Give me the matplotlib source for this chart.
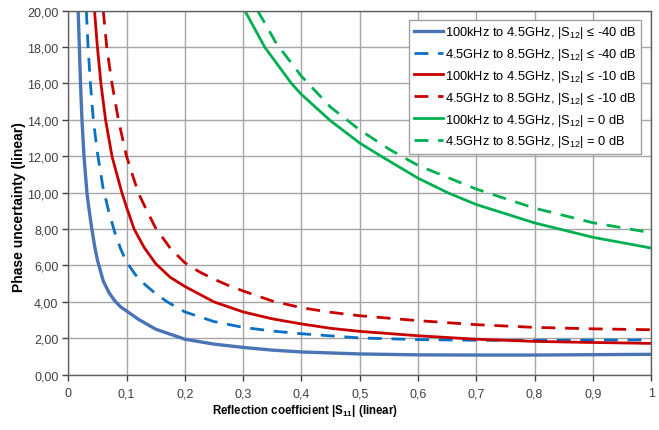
import matplotlib
matplotlib.use("Agg")
import matplotlib.pyplot as plt
from matplotlib.ticker import FuncFormatter, MultipleLocator

plt.rcParams['font.family'] = ['Liberation Sans', 'DejaVu Sans']
plt.rcParams['mathtext.fontset'] = 'custom'
plt.rcParams['mathtext.rm'] = 'Liberation Sans'
plt.rcParams['mathtext.bf'] = 'Liberation Sans:bold'

# values
x_low_40 = [0.017, 0.019, 0.021, 0.0235, 0.027, 0.032, 0.036, 0.040, 0.045, 0.050, 0.060,
            0.070, 0.080, 0.090, 0.10, 0.12, 0.15, 0.20, 0.25, 0.30, 0.35, 0.40, 0.50,
            0.60, 0.70, 0.80, 0.90, 1.00]
y_low_40 = [20.0, 18.0, 16.0, 14.0, 12.0, 10.0, 9.0, 8.1, 7.1, 6.3, 5.15,
            4.5, 4.05, 3.72, 3.5, 3.05, 2.5, 1.95, 1.68, 1.5, 1.35, 1.25, 1.14,
            1.09, 1.08, 1.08, 1.10, 1.12]

x_high_40 = [0.031, 0.034, 0.038, 0.043, 0.050, 0.060, 0.070, 0.080, 0.090, 0.10,
             0.115, 0.13, 0.15, 0.17, 0.20, 0.25, 0.30, 0.35, 0.40, 0.50, 0.60,
             0.70, 0.80, 0.90, 1.00]
y_high_40 = [20.0, 18.0, 16.0, 14.0, 12.2, 10.2, 8.9, 7.8, 6.9, 6.2,
             5.5, 5.0, 4.45, 4.0, 3.45, 2.92, 2.6, 2.4, 2.25, 2.02, 1.93,
             1.89, 1.89, 1.90, 1.91]

x_low_10 = [0.045, 0.050, 0.056, 0.064, 0.075, 0.092, 0.10, 0.113, 0.13, 0.15, 0.175,
            0.20, 0.25, 0.30, 0.35, 0.40, 0.45, 0.50, 0.60, 0.70, 0.80, 0.90, 1.00]
y_low_10 = [20.0, 18.0, 16.0, 14.0, 12.0, 10.0, 9.2, 8.0, 7.0, 6.1, 5.35,
            4.85, 4.0, 3.45, 3.07, 2.79, 2.55, 2.38, 2.14, 1.95, 1.83, 1.77, 1.72]

x_high_10 = [0.060, 0.066, 0.075, 0.086, 0.10, 0.12, 0.135, 0.15, 0.175, 0.20, 0.225,
             0.25, 0.275, 0.30, 0.35, 0.40, 0.45, 0.50, 0.60, 0.70, 0.80, 0.90, 1.00]
y_high_10 = [20.0, 18.0, 16.0, 14.0, 12.0, 10.0, 9.0, 8.05, 6.95, 6.15, 5.65,
             5.25, 4.9, 4.6, 4.05, 3.68, 3.43, 3.24, 2.97, 2.75, 2.6, 2.52, 2.47]

x_low_0 = [0.303, 0.32, 0.337, 0.36, 0.383, 0.40, 0.45, 0.50, 0.537, 0.60, 0.651,
           0.70, 0.80, 0.90, 1.00]
y_low_0 = [20.0, 19.0, 18.0, 17.0, 16.0, 15.4, 13.95, 12.73, 12.0, 10.8, 10.0,
           9.35, 8.34, 7.55, 6.96]

x_high_0 = [0.325, 0.357, 0.40, 0.45, 0.50, 0.55, 0.60, 0.70, 0.80, 0.90, 1.00]
y_high_0 = [20.0, 18.2, 16.4, 14.7, 13.45, 12.4, 11.5, 10.2, 9.15, 8.35, 7.8]

labels = [
    r'100kHz to 4.5GHz, |S$_{12}$| ≤ -40 dB',
    r'4.5GHz to 8.5GHz, |S$_{12}$| ≤ -40 dB',
    r'100kHz to 4.5GHz, |S$_{12}$| ≤ -10 dB',
    r'4.5GHz to 8.5GHz, |S$_{12}$| ≤ -10 dB',
    r'100kHz to 4.5GHz, |S$_{12}$| = 0 dB',
    r'4.5GHz to 8.5GHz, |S$_{12}$| = 0 dB',
]

fig = plt.figure(figsize=(6.59, 4.31), dpi=100)
ax = fig.add_axes([0.1036, 0.1283, 0.8844, 0.8446])

dash = (0, (5, 3.5))
ax.plot(x_low_40, y_low_40, color='#4a74b4', lw=2.4, label=labels[0])
ax.plot(x_high_40, y_high_40, color='#0a70c4', lw=2.0, ls=dash, label=labels[1])
ax.plot(x_low_10, y_low_10, color='#c80000', lw=2.0, label=labels[2])
ax.plot(x_high_10, y_high_10, color='#c80000', lw=2.0, ls=dash, label=labels[3])
ax.plot(x_low_0, y_low_0, color='#00b050', lw=2.0, label=labels[4])
ax.plot(x_high_0, y_high_0, color='#00b050', lw=2.0, ls=dash, label=labels[5])

ax.set_xlim(0, 1)
ax.set_ylim(0, 20)
ax.xaxis.set_major_locator(MultipleLocator(0.1))
ax.yaxis.set_major_locator(MultipleLocator(2))
ax.xaxis.set_major_formatter(FuncFormatter(
    lambda v, p: '0' if abs(v) < 1e-9 else ('1' if abs(v - 1) < 1e-9 else f'{v:.1f}'.replace('.', ','))))
ax.yaxis.set_major_formatter(FuncFormatter(lambda v, p: f'{v:.2f}'.replace('.', ',')))
ax.tick_params(labelsize=9, colors='#404040', length=4, width=1, pad=3)
ax.tick_params(axis='x', pad=5)

ax.grid(True, color='#a6a6a6', lw=1)
ax.set_axisbelow(True)
for side in ['left', 'bottom', 'top', 'right']:
    ax.spines[side].set_color('#606060')
    ax.spines[side].set_linewidth(1)

ax.set_xlabel(r'Reflection coefficient |S$_{\mathbf{11}}$| (linear)', fontsize=8.3,
              fontweight='bold')
ax.xaxis.set_label_coords(0.407, -0.074)
ax.set_ylabel('Phase uncertainty (linear)', fontsize=10, fontweight='bold')
ax.yaxis.set_label_coords(-0.072, 0.462)

leg = ax.legend(loc='upper right', bbox_to_anchor=(0.983, 0.975), fontsize=9.3,
                handlelength=2.3, handletextpad=0.15, labelspacing=0.45,
                borderpad=0.35, borderaxespad=0, fancybox=False, framealpha=1,
                edgecolor='#a0a0a0')
leg.get_frame().set_linewidth(1)

fig.savefig('out.png', dpi=100)
